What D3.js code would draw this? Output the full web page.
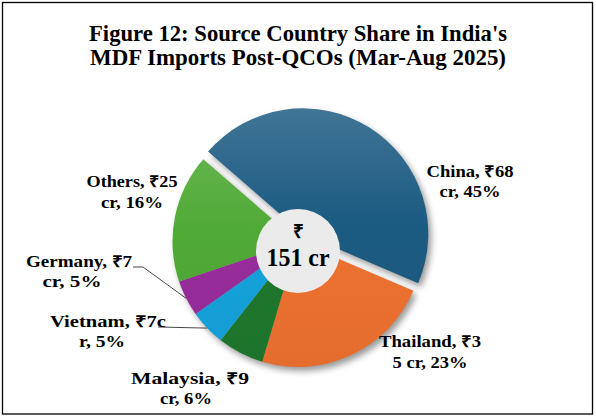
<!DOCTYPE html>
<html>
<head>
<meta charset="utf-8">
<script src="https://cdn.jsdelivr.net/npm/d3@7"></script>
<style>
body { margin: 0; background: #fff; }
text { font-family: "Liberation Serif", "Times New Roman", serif; font-weight: bold; fill: #000; }
</style>
</head>
<body>
<div id="chart"></div>
<script>
// data
const countries = ["China", "Thailand", "Malaysia", "Vietnam", "Germany", "Others"];
const values = [68, 35, 9, 7, 7, 25];
const labelLines = [
	["China, ₹68", "cr, 45%"],
	["Thailand, ₹3", "5 cr, 23%"],
	["Malaysia, ₹9", "cr, 6%"],
	["Vietnam, ₹7c", "r, 5%"],
	["Germany, ₹7", "cr, 5%"],
	["Others, ₹25", "cr, 16%"]
];
const totalLines = ["₹", "151 cr"];
const titleLines = ["Figure 12: Source Country Share in India's", "MDF Imports Post-QCOs (Mar-Aug 2025)"];
const exploded = ["China"];

let width = 596, height = 418;
let cx = 298, cy = 241.5, R = 125.5;
let startDeg = -49;
let explode = 9;

let colors = {China: "#1c5b82", Thailand: "#ee7230", Malaysia: "#1e782d",
			  Vietnam: "#15a2db", Germany: "#982c9c", Others: "#50aa36"};

// label placement: per line [centre x, baseline y, width]
let labelPos = {
	China:    [[470, 177, 87], [470, 197, 61]],
	Thailand: [[430, 347, 102], [430, 368, 75]],
	Malaysia: [[190, 384, 118], [186, 404, 52]],
	Vietnam:  [[108, 327, 116], [102, 347, 46]],
	Germany:  [[79, 267, 106], [72, 287, 59]],
	Others:   [[132, 187, 91], [132, 208, 62]]
};
// leader lines start here and run to the slice edge
let leaders = {
	Germany: [[133, 267], [143, 267]],
	Vietnam: [[158, 327]]
};

let svg = d3.select("#chart").append("svg")
			.attr("width", width)
			.attr("height", height);

let defs = svg.append("defs");
let shadow = defs.append("filter").attr("id", "shadow")
			.attr("color-interpolation-filters", "sRGB")
			.attr("x", "-20%").attr("y", "-20%").attr("width", "140%").attr("height", "140%");
shadow.append("feDropShadow")
	.attr("dx", 3).attr("dy", 4).attr("stdDeviation", 3)
	.attr("flood-color", "#000").attr("flood-opacity", 0.4);

// gradients live in the pie group's coordinates (centre at 0,0)
countries.forEach(function(c) {
	let g = defs.append("linearGradient").attr("id", "grad-" + c)
				.attr("gradientUnits", "userSpaceOnUse")
				.attr("x1", 0).attr("y1", -R).attr("x2", 0).attr("y2", R);
	g.append("stop").attr("offset", 0).attr("stop-color", d3.interpolateRgb(colors[c], "#fff")(0.16));
	g.append("stop").attr("offset", 0.45).attr("stop-color", colors[c]);
	g.append("stop").attr("offset", 1).attr("stop-color", d3.interpolateRgb(colors[c], "#000")(0.04));
});

svg.append("rect")
	.attr("x", 2.5).attr("y", 2.5)
	.attr("width", 590).attr("height", 411.5)
	.attr("fill", "white")
	.attr("stroke", "black")
	.attr("stroke-width", 1.3);

svg.selectAll(".title").data(titleLines).enter().append("text")
	.attr("class", "title")
	.attr("x", cx)
	.attr("y", (d, i) => 41 + i * 24)
	.attr("text-anchor", "middle")
	.attr("font-size", 24)
	.attr("textLength", (d, i) => i == 0 ? 418 : 416)
	.attr("lengthAdjust", "spacingAndGlyphs")
	.text(d => d);

let rad = Math.PI / 180;
let pie = d3.pie().sort(null)
			.startAngle(startDeg * rad)
			.endAngle(startDeg * rad + 2 * Math.PI)
			.value(d => d.value);
let arcs = pie(countries.map((c, i) => ({name: c, value: values[i]})));
let arc = d3.arc().innerRadius(0).outerRadius(R);

let pieG = svg.append("g")
			.attr("transform", "translate(" + cx + "," + cy + ")")
			.attr("filter", "url(#shadow)");

pieG.selectAll("path").data(arcs).enter().append("path")
	.attr("d", arc)
	.attr("fill", d => "url(#grad-" + d.data.name + ")")
	.attr("transform", function(d) {
		if (exploded.indexOf(d.data.name) < 0) return null;
		let m = (d.startAngle + d.endAngle) / 2;
		return "translate(" + (Math.sin(m) * explode) + "," + (-Math.cos(m) * explode) + ")";
	});

// centre disc
svg.append("circle")
	.attr("cx", cx).attr("cy", 251)
	.attr("r", 42)
	.attr("fill", "#ebebeb");
svg.append("text").attr("x", cx).attr("y", 238).attr("text-anchor", "middle")
	.attr("font-size", 19).text(totalLines[0]);
svg.append("text").attr("x", cx).attr("y", 266).attr("text-anchor", "middle")
	.attr("font-size", 25)
	.attr("textLength", 63).attr("lengthAdjust", "spacingAndGlyphs")
	.text(totalLines[1]);

// leader lines
arcs.forEach(function(d) {
	let pts = leaders[d.data.name];
	if (!pts) return;
	let m = (d.startAngle + d.endAngle) / 2;
	let end = [cx + Math.sin(m) * R, cy - Math.cos(m) * R];
	svg.append("polyline")
		.attr("points", pts.concat([end]).map(p => p.join(",")).join(" "))
		.attr("fill", "none")
		.attr("stroke", "#333")
		.attr("stroke-width", 0.9);
});

// labels
countries.forEach(function(c, i) {
	labelLines[i].forEach(function(line, j) {
		let p = labelPos[c][j];
		svg.append("text")
			.attr("x", p[0]).attr("y", p[1])
			.attr("text-anchor", "middle")
			.attr("font-size", 16)
			.attr("textLength", p[2])
			.attr("lengthAdjust", "spacingAndGlyphs")
			.text(line);
	});
});
</script>
</body>
</html>
